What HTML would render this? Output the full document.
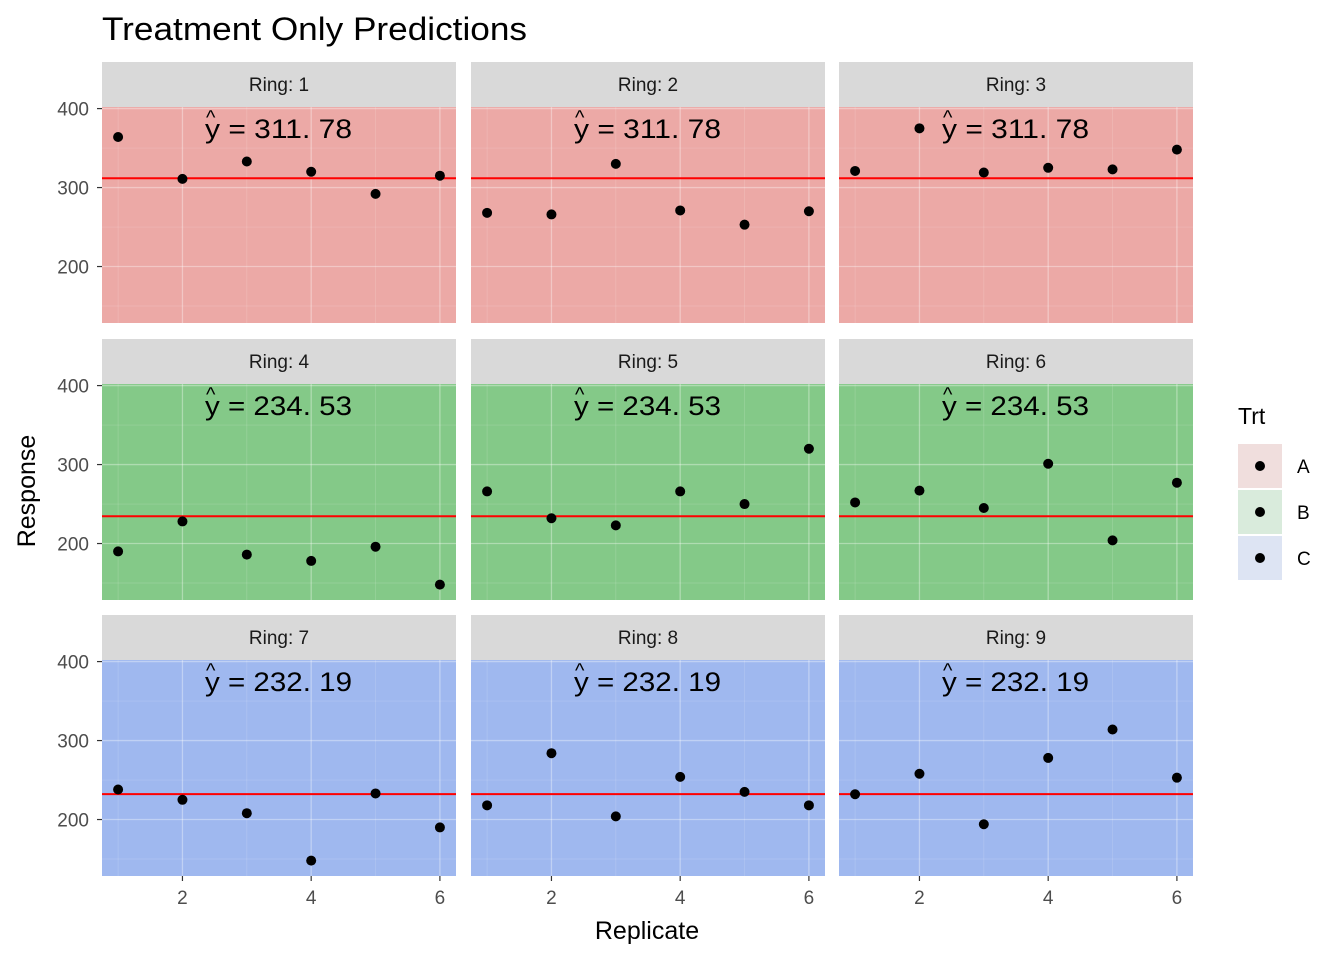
<!DOCTYPE html>
<html><head><meta charset="utf-8"><style>
html,body{margin:0;padding:0;background:#fff}
svg{display:block;font-family:"Liberation Sans",Arial,sans-serif}
</style></head><body>
<svg id="chart" width="1344" height="960" xmlns="http://www.w3.org/2000/svg">
<text x="102" y="40" font-size="32" textLength="425" lengthAdjust="spacingAndGlyphs" fill="#000">Treatment Only Predictions</text>
<text x="647" y="939" font-size="25" text-anchor="middle" fill="#000">Replicate</text>
<text transform="translate(35,491) rotate(-90)" font-size="25" text-anchor="middle" fill="#000">Response</text>
<g id="legend">
<text x="1238" y="424" font-size="23" fill="#000">Trt</text>
</g>
</svg>
<script>
const rings=["1","2","3","4","5","6","7","8","9"];
const ringTrt=["A","A","A","B","B","B","C","C","C"];
const trts=["A","B","C"];
const trtMeans=[311.78,234.53,232.19];
const meanLabels=["311. 78","234. 53","232. 19"];
const replicates=[1,2,3,4,5,6];
const r1=[364,311,333,320,292,315];
const r2=[268,266,330,271,253,270];
const r3=[321,375,319,325,323,348];
const r4=[190,228,186,178,196,148];
const r5=[266,232,223,266,250,320];
const r6=[252,267,245,301,204,277];
const r7=[238,225,208,148,233,190];
const r8=[218,284,204,254,235,218];
const r9=[232,258,194,278,314,253];
const xTicks=[2,4,6];
const yTicks=[200,300,400];
const series=[r1,r2,r3,r4,r5,r6,r7,r8,r9];
const fills={A:"#eca9a6",B:"#84c988",C:"#9fb8ef"};
const keyFills={A:"#f0dedd",B:"#d9ebdc",C:"#dde4f3"};
const NS="http://www.w3.org/2000/svg";
const svg=document.getElementById("chart");
function mk(tag,attrs,parent){const e=document.createElementNS(NS,tag);for(const k in attrs)e.setAttribute(k,attrs[k]);(parent||svg).appendChild(e);return e;}
const colX=[102,471,839],pw=354,rowTop=[62,339,615],stripH=45,ph=216;
const xmin=0.75,xmax=6.25,ymin=128.5,ymax=402;
for(let i=0;i<9;i++){
  const c=i%3,r=Math.floor(i/3);
  const px=colX[c],sy=rowTop[r],py=sy+stripH;
  const X=v=>px+(v-xmin)/(xmax-xmin)*pw;
  const Y=v=>py+ph-(v-ymin)/(ymax-ymin)*ph;
  const g=mk("g",{});
  
  
  const strip=mk("rect",{x:px,y:sy,width:pw,height:stripH,fill:"#d9d9d9"},g);
  
  
  const st=mk("text",{x:px+pw/2,y:sy+29,"font-size":"19","text-anchor":"middle",fill:"#1a1a1a"},g);
  st.textContent="Ring: "+rings[i];
  
  
  const t=ringTrt[i],ti=trts.indexOf(t);
  const bg=mk("rect",{x:px,y:py,width:pw,height:ph,fill:fills[t]},g);
  
  
  for(let v=150;v<=400;v+=50){const major=v%100===0;const l=mk("line",{x1:px,x2:px+pw,y1:Y(v),y2:Y(v),stroke:"#fff","stroke-opacity":major?0.35:0.18,"stroke-width":major?1.3:0.7},g);}
  for(let v=1;v<=6;v++){const major=v%2===0;const l=mk("line",{x1:X(v),x2:X(v),y1:py,y2:py+ph,stroke:"#fff","stroke-opacity":major?0.35:0.18,"stroke-width":major?1.3:0.7},g);}
  const ml=mk("line",{x1:px,x2:px+pw,y1:Y(trtMeans[ti]),y2:Y(trtMeans[ti]),stroke:"#ff0000","stroke-width":2},g);
  
  
  const ax=px+103;
  const at=mk("text",{x:ax,y:py+31,"font-size":"27",textLength:"147",lengthAdjust:"spacingAndGlyphs",fill:"#000"},g);
  at.textContent="y = "+meanLabels[ti];
  
  
  const hat=mk("text",{x:ax+1,y:py+17,"font-size":"20",fill:"#000"},g);
  hat.textContent="^";
  
  
  series[i].forEach((v,j)=>{const p=mk("circle",{cx:X(replicates[j]),cy:Y(v),r:5,fill:"#000"},g);});
  if(c===0){yTicks.forEach(v=>{mk("line",{x1:px-5,x2:px,y1:Y(v),y2:Y(v),stroke:"#333","stroke-width":1.2},g);const tl=mk("text",{x:px-13,y:Y(v)+7,"font-size":"19","text-anchor":"end",fill:"#4d4d4d"},g);tl.textContent=v;});}
  if(r===2){xTicks.forEach(v=>{mk("line",{x1:X(v),x2:X(v),y1:py+ph,y2:py+ph+5,stroke:"#333","stroke-width":1.2},g);const tl=mk("text",{x:X(v),y:py+ph+28,"font-size":"19","text-anchor":"middle",fill:"#4d4d4d"},g);tl.textContent=v;});}
}
const lg=document.getElementById("legend");
trts.forEach((t,k)=>{
  const y0=444+k*46;
  const kr=mk("rect",{x:1238,y:y0,width:44,height:44,fill:keyFills[t]},lg);
  
  
  mk("circle",{cx:1260,cy:y0+22,r:5,fill:"#000"},lg);
  const tx=mk("text",{x:1297,y:y0+29,"font-size":"19",fill:"#000"},lg);
  tx.textContent=t;
  
  
});
</script>
</body></html>
